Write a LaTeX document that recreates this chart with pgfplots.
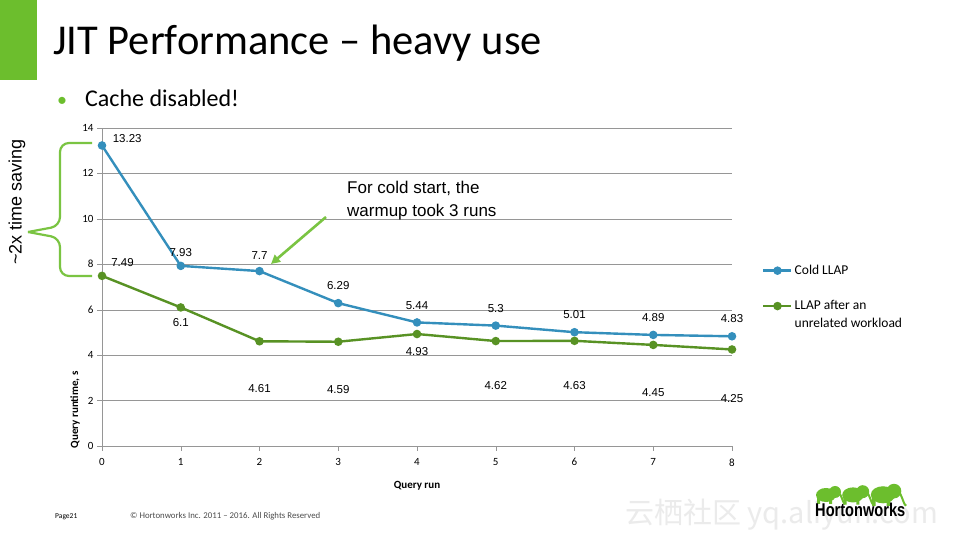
\documentclass[border=0pt]{standalone}
\usepackage{fontspec}
\setmainfont{Carlito}
\newfontfamily\arial{Liberation Sans}
\newfontfamily\cjk{Noto Sans CJK SC}
\usepackage{pgfplots}
\pgfplotsset{compat=1.18}
\usetikzlibrary{arrows.meta}

\definecolor{hwgreen}{RGB}{108,190,45}
\definecolor{coldblue}{RGB}{52,143,188}
\definecolor{warmgreen}{RGB}{88,146,36}
\definecolor{notegreen}{RGB}{122,196,66}
\definecolor{gridgray}{RGB}{150,150,150}

\newcommand{\fs}[1]{\fontsize{#1}{#1}\selectfont}

% query run vs runtime (s)
\pgfplotstableread{
run cold warm
0 13.23 7.49
1 7.93 6.10
2 7.70 4.61
3 6.29 4.59
4 5.44 4.93
5 5.30 4.62
6 5.01 4.63
7 4.89 4.45
8 4.83 4.25
}\runtimes

\begin{document}
\begin{tikzpicture}[x=1pt,y=1pt]
  \path[fill=white,use as bounding box] (0,0) rectangle (960,540);

  % slide header
  \fill[hwgreen] (0,540) rectangle (37,460);
  \node[anchor=base west,inner sep=0] at (53,485) {\fs{42.5}JIT Performance – heavy use};
  \node[anchor=base west,inner sep=0,text=hwgreen] at (57,433) {\fs{20}•};
  \node[anchor=base west,inner sep=0] at (85,433) {\fs{24}Cache disabled!};

  \begin{axis}[
    at={(102pt,94pt)}, anchor=south west,
    scale only axis, width=630pt, height=318pt,
    xmin=0, xmax=8, ymin=0, ymax=14,
    xtick={0,...,8}, ytick={0,2,...,14},
    axis lines*=left,
    axis line style={gridgray},
    tick style={gridgray},
    tick align=outside, major tick length=5pt,
    ymajorgrids, grid style={gridgray},
    ticklabel style={font=\fs{11}},
    xticklabel style={yshift=-4pt},
    /pgf/number format/assume math mode=true,
    xlabel={\bfseries Query run},
    xlabel style={font=\fs{11}, yshift=-8pt},
    legend cell align=left,
    legend style={draw=none, fill=none, font=\fs{13.5},
      at={(rel axis cs:1.043,0.585)}, anchor=north west,
      nodes={text height=10pt, text depth=3pt, inner sep=2pt},
      row sep=0.7pt},
    legend image code/.code={\draw[mark repeat=2,mark phase=2]
      plot coordinates {(0pt,0pt) (14pt,0pt) (28pt,0pt)};},
    clip=false,
  ]
    \addplot[coldblue, line width=2.4pt, mark=*, mark size=3pt] table[x=run,y=cold] {\runtimes};
    \addlegendentry{Cold LLAP}
    \addlegendimage{empty legend}
    \addlegendentry{}
    \addplot[warmgreen, line width=2.4pt, mark=*, mark size=3pt] table[x=run,y=warm] {\runtimes};
    \addlegendentry{LLAP after an}
    \addlegendimage{empty legend}
    \addlegendentry{unrelated workload}

    % data labels
    \begin{scope}[every node/.style={font=\arial\fs{11.5}, inner sep=0}]
      \node at (axis cs:0.32,13.53) {13.23};
      \node at (axis cs:1,8.53) {7.93};
      \node at (axis cs:2,8.40) {7.7};
      \node at (axis cs:3,7.05) {6.29};
      \node at (axis cs:4,6.20) {5.44};
      \node at (axis cs:5,6.05) {5.3};
      \node at (axis cs:6,5.80) {5.01};
      \node at (axis cs:7,5.66) {4.89};
      \node at (axis cs:8,5.60) {4.83};
      \node at (axis cs:0.26,8.08) {7.49};
      \node at (axis cs:1,5.42) {6.1};
      \node at (axis cs:2,2.55) {4.61};
      \node at (axis cs:3,2.50) {4.59};
      \node at (axis cs:4,4.15) {4.93};
      \node at (axis cs:5,2.68) {4.62};
      \node at (axis cs:6,2.68) {4.63};
      \node at (axis cs:7,2.37) {4.45};
      \node at (axis cs:8,2.10) {4.25};
    \end{scope}
  \end{axis}

  % y axis label
  \node[rotate=90,font=\bfseries\fs{11}] at (75,130) {Query runtime, s};

  % brace and time-saving note
  \draw[notegreen, line width=2.2pt, rounded corners=9pt]
    (92,397) -- (60,397) -- (60,314) -- (28,308) ;
  \draw[notegreen, line width=2.2pt, rounded corners=9pt]
    (28,308) -- (60,302) -- (60,264) -- (92,264);
  \node[rotate=90,font=\arial\fs{18}] at (17,338) {\textasciitilde 2x time saving};

  % warmup note
  \node[anchor=base west,inner sep=0,font=\arial\fs{17}] at (347,346) {For cold start, the};
  \node[anchor=base west,inner sep=0,font=\arial\fs{17}] at (347,323) {warmup took 3 runs};
  \draw[notegreen, line width=2.6pt, -{Triangle[length=9pt,width=9pt]}] (326,323) -- (271,276);

  % footer
  \node[anchor=base west,inner sep=0,font=\fs{7.5}] at (55,21) {Page21};
  \node[anchor=base west,inner sep=0,font=\fs{8.8},text=black!70] at (130,21) {© Hortonworks Inc. 2011 – 2016. All Rights Reserved};
  \node[anchor=base west,inner sep=0,font=\cjk\fs{29},text=black!8] at (625,16) {云栖社区 yq.aliyun.com};

  % logo
  \begin{scope}[fill=hwgreen]
    \foreach \ex/\s in {826/1.0,853/1.08,883/1.22}{
      \fill[shift={(\ex,44)},scale=\s] (-9,0) rectangle (-6,-8) (3,0) rectangle (6,-8);
      \fill[shift={(\ex,44)},scale=\s] (0,1) ellipse (10pt and 7pt);
      \fill[shift={(\ex,44)},scale=\s] (9,4) circle (6pt);
      \draw[hwgreen,line width=2pt,shift={(\ex,44)},scale=\s] (14,2) .. controls (17,-4) and (17,-7) .. (19,-8);
    }
  \end{scope}
  \node[anchor=base west,inner sep=0,font=\arial\bfseries\fs{18.5}] at (815,23) {\scalebox{0.79}[1]{Hortonworks}};
\end{tikzpicture}
\end{document}
